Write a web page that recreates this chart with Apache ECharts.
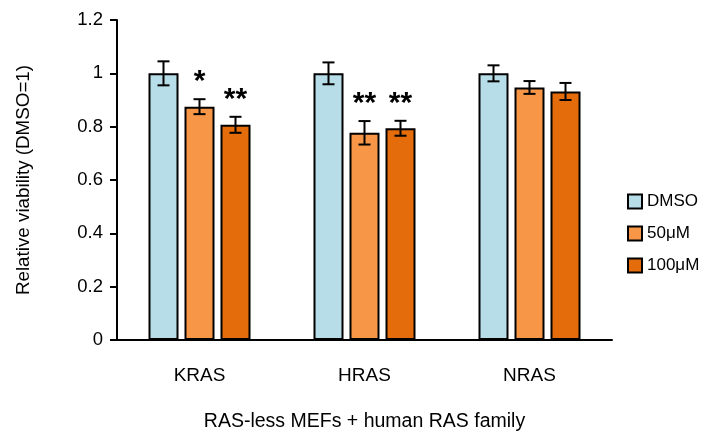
<!DOCTYPE html>
<html>
<head>
<meta charset="utf-8">
<script src="https://cdn.jsdelivr.net/npm/echarts@6/dist/echarts.min.js"></script>
<style>html,body{margin:0;padding:0;background:#fff}#c{width:708px;height:440px}</style>
</head>
<body>
<div id="c"></div>
<script>
var categories = ['KRAS', 'HRAS', 'NRAS'];
var seriesNames = ['DMSO', '50\u03bcM', '100\u03bcM'];
var dmso = [1.0, 1.0, 1.0];
var dose50 = [0.875, 0.777, 0.947];
var dose100 = [0.807, 0.794, 0.932];
var errDmso = [0.045, 0.041, 0.030];
var err50 = [0.028, 0.044, 0.024];
var err100 = [0.030, 0.028, 0.032];
var sig50 = ['*', '**', ''];
var sig100 = ['**', '**', ''];
var yTicks = [0, 0.2, 0.4, 0.6, 0.8, 1, 1.2];

var colors = ['#B7DEE8', '#F79646', '#E46C0A'];
var values = [dmso, dose50, dose100];
var errs = [errDmso, err50, err100];
var sigs = [[], sig50, sig100];

var chart = echarts.init(document.getElementById('c'), null, {renderer: 'canvas'});
var FONT = 'Liberation Sans, Arial, sans-serif';
var BAR_W = 30, GAP = 6;

function errSeries(k) {
  var data = categories.map(function (c, i) {
    return [i, values[k][i], errs[k][i], sigs[k][i] || ''];
  });
  return {
    type: 'custom',
    name: seriesNames[k] + ' err',
    z: 10,
    silent: true,
    renderItem: function (params, api) {
      var i = api.value(0), v = api.value(1), e = api.value(2);
      var s = data[params.dataIndex][3];
      var off = (k - 1) * (BAR_W + GAP);
      var top = api.coord([i, v + e]);
      var bot = api.coord([i, v - e]);
      var x = top[0] + off;
      var hw = 6;
      var children = [
        {type: 'line', shape: {x1: x, y1: top[1], x2: x, y2: bot[1]}, style: {stroke: '#000', lineWidth: 2}},
        {type: 'line', shape: {x1: x - hw, y1: top[1], x2: x + hw, y2: top[1]}, style: {stroke: '#000', lineWidth: 2}},
        {type: 'line', shape: {x1: x - hw, y1: bot[1], x2: x + hw, y2: bot[1]}, style: {stroke: '#000', lineWidth: 2}}
      ];
      if (s) {
        children.push({type: 'text', x: x, y: top[1] - 17, style: {text: s, fill: '#000', font: 'bold 30px ' + FONT, align: 'center', verticalAlign: 'middle'}});
      }
      return {type: 'group', children: children};
    },
    data: data
  };
}

var series = [];
for (var k = 0; k < 3; k++) {
  series.push({
    type: 'bar',
    name: seriesNames[k],
    data: values[k],
    barWidth: BAR_W,
    barGap: '20%',
    itemStyle: {color: colors[k], borderColor: '#000', borderWidth: 2}
  });
}
for (var k2 = 0; k2 < 3; k2++) series.push(errSeries(k2));

chart.setOption({
  animation: false,
  backgroundColor: '#fff',
  grid: {left: 117, right: 96, top: 20, bottom: 100, containLabel: false},
  legend: {
    data: seriesNames,
    orient: 'vertical',
    left: 622,
    top: 188,
    itemWidth: 14,
    itemHeight: 14,
    itemGap: 15,
    icon: 'rect',
    textStyle: {fontFamily: FONT, fontSize: 17, color: '#000', padding: [0, 0, 0, 0]},
    itemStyle: {borderColor: '#000', borderWidth: 2}
  },
  xAxis: {
    type: 'category',
    data: categories,
    name: 'RAS-less MEFs + human RAS family',
    nameLocation: 'middle',
    nameGap: 72,
    nameTextStyle: {fontFamily: FONT, fontSize: 19.5, color: '#000'},
    axisLine: {lineStyle: {color: '#000', width: 2}},
    axisTick: {show: false},
    axisLabel: {fontFamily: FONT, fontSize: 19, color: '#000', margin: 26}
  },
  yAxis: {
    type: 'value',
    min: 0,
    max: 1.2,
    interval: 0.2,
    name: 'Relative viability (DMSO=1)',
    nameLocation: 'middle',
    nameGap: 84,
    nameTextStyle: {fontFamily: FONT, fontSize: 18.8, color: '#000'},
    axisLine: {show: true, lineStyle: {color: '#000', width: 2}},
    axisTick: {show: true, length: 7, lineStyle: {color: '#000', width: 2}},
    splitLine: {show: false},
    axisLabel: {fontFamily: FONT, fontSize: 18.5, color: '#000', margin: 14,
      formatter: function (v) { return yTicks.indexOf(Math.round(v * 10) / 10) >= 0 ? String(Math.round(v * 10) / 10) : ''; }}
  },
  series: series
});
</script>
</body>
</html>
